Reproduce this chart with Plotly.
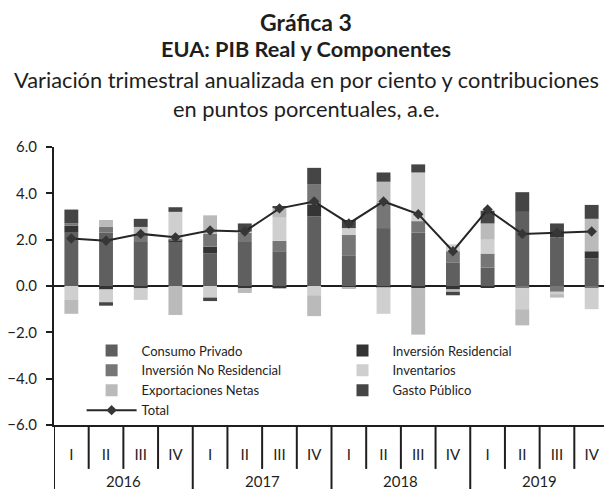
import plotly.graph_objects as go

year_labels = ["2016", "2017", "2018", "2019"]
quarters = ["I", "II", "III", "IV"] * 4

consumo_privado = [2.3, 2.3, 1.9, 1.9, 1.4, 1.9, 1.5, 3.0, 1.3, 2.5, 2.3, 1.0, 0.8, 3.2, 2.1, 1.2]
inversion_residencial = [0.3, -0.15, -0.1, 0.05, 0.3, -0.1, -0.1, 0.5, -0.05, -0.05, -0.1, -0.15, -0.05, 0.0, 0.2, 0.3]
inversion_no_residencial = [0.1, 0.25, 0.35, 0.1, 0.55, 0.4, 0.45, 0.9, 0.9, 1.1, 0.5, 0.5, 0.6, -0.1, -0.25, -0.1]
inventarios = [-0.6, -0.55, -0.5, 1.15, -0.5, 0.05, 1.0, -0.4, 0.3, -1.15, 2.1, 0.3, 0.6, -0.9, -0.1, -0.9]
exportaciones_netas = [-0.6, 0.3, 0.3, -1.25, 0.8, -0.2, 0.45, -0.9, -0.05, 0.9, -2.0, -0.1, 0.7, -0.7, -0.15, 1.4]
gasto_publico = [0.6, -0.15, 0.35, 0.2, -0.15, 0.35, 0.05, 0.7, 0.35, 0.4, 0.35, -0.15, 0.55, 0.85, 0.4, 0.6]
total = [2.05, 1.95, 2.25, 2.1, 2.4, 2.35, 3.35, 3.65, 2.7, 3.65, 3.1, 1.5, 3.3, 2.25, 2.3, 2.35]

x = list(range(len(quarters)))
font = "Lato, 'Open Sans', sans-serif"
ink = "#1e1e1e"

fig = go.Figure()
# (name, values, colour, legend column)
series = [
    ("Consumo Privado", consumo_privado, "#5f5f5f", "legend"),
    ("Inversión Residencial", inversion_residencial, "#343434", "legend2"),
    ("Inversión No Residencial", inversion_no_residencial, "#767676", "legend"),
    ("Inventarios", inventarios, "#cfcfcf", "legend2"),
    ("Exportaciones Netas", exportaciones_netas, "#bababa", "legend"),
    ("Gasto Público", gasto_publico, "#454545", "legend2"),
]
for name, vals, col, leg in series:
    fig.add_trace(go.Bar(x=x, y=vals, name=name, marker_color=col,
                         marker_line_width=0, legend=leg))

fig.add_trace(go.Scatter(x=x, y=total, name="Total", mode="lines+markers",
                         line=dict(color="#262626", width=2),
                         marker=dict(symbol="diamond", size=8, color="#363636"),
                         legend="legend"))

left = 54  # page x of the plot's left edge
leg_common = dict(orientation="v", yanchor="top", xanchor="left", bgcolor="rgba(0,0,0,0)",
                  font=dict(size=13, family=font, color=ink), tracegroupgap=0,
                  itemwidth=50, traceorder="normal")
# the page adds an 8px body margin, so the figure is 8px smaller than the window
fig.update_layout(
    width=604, height=481,
    margin=dict(l=left - 8, r=3, t=139, b=64),
    paper_bgcolor="white", plot_bgcolor="white",
    barmode="relative", bargap=0.6,
    font=dict(family=font, color=ink, size=14),
    showlegend=True,
    legend=dict(x=(81.6 - left) / 555, y=0.322, **leg_common),
    legend2=dict(x=(332.5 - left) / 555, y=0.322, **leg_common),
)

# title block, centred on the page
titles = [
    ("<b>Gráfica 3</b>", 22, 23),
    ("<b>EUA: PIB Real y Componentes</b>", 49, 21.7),
    ("Variación trimestral anualizada en por ciento y contribuciones", 80, 21.8),
    ("en puntos porcentuales, a.e.", 108, 21.8),
]
for txt, ypx, sz in titles:
    fig.add_annotation(text=txt, x=(306 - left) / 555, xref="paper", y=1 + (147 - ypx) / 278,
                       yref="paper", showarrow=False, xanchor="center", yanchor="middle",
                       font=dict(size=sz, family=font, color=ink))

# category table under the plot: quarter separators, year separators, year labels
for i in range(len(quarters) + 1):
    year_edge = i % 4 == 0
    fig.add_shape(type="line", xref="x", yref="paper", x0=i - 0.5, x1=i - 0.5,
                  y0=0, y1=-0.3 if year_edge else -0.158,
                  line=dict(color=ink, width=2))
for k, yr in enumerate(year_labels):
    fig.add_annotation(text=yr, x=4 * k + 1.5, xref="x", y=-(481 - 425) / 278, yref="paper",
                       showarrow=False, xanchor="center", yanchor="middle",
                       font=dict(size=15, family=font, color=ink))

fig.update_yaxes(range=[-6, 6], dtick=2, tickformat=".1f", showgrid=False, automargin=False,
                 showline=True, linecolor=ink, linewidth=2,
                 ticks="outside", ticklen=6, tickcolor=ink, tickwidth=2, ticklabelstandoff=6,
                 tickfont=dict(size=15), zeroline=True, zerolinecolor=ink, zerolinewidth=2)
fig.update_xaxes(range=[-0.5, len(quarters) - 0.5], tickvals=x, ticktext=quarters,
                 showgrid=False, zeroline=False, showline=True, linecolor=ink, linewidth=2,
                 ticks="", automargin=False, ticklabelstandoff=15, tickfont=dict(size=15))

fig.write_html("out.html")
